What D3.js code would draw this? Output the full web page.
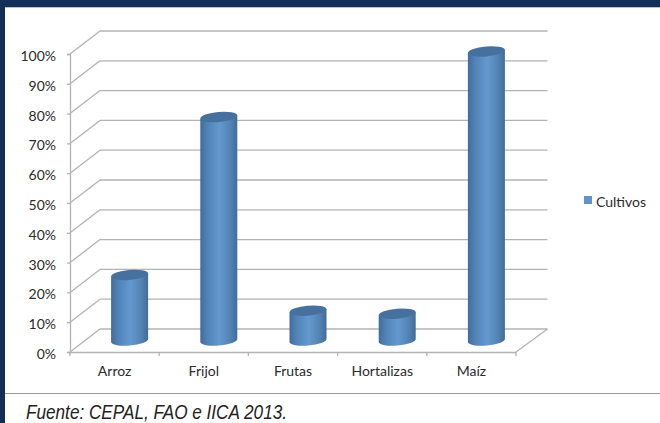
<!DOCTYPE html>
<html>
<head>
<meta charset="utf-8">
<script src="https://cdn.jsdelivr.net/npm/d3@7"></script>
<style>
  html, body { margin: 0; padding: 0; background: #fff; }
  svg { display: block; }
</style>
</head>
<body>
<svg id="chart" width="660" height="423"></svg>
<script>
const categories = ["Arroz", "Frijol", "Frutas", "Hortalizas", "Maíz"];
const cultivos = [22, 75, 10, 9, 97];
const yTicks = [0, 10, 20, 30, 40, 50, 60, 70, 80, 90, 100];
const seriesName = "Cultivos";
const sourceNote = "Fuente: CEPAL, FAO e IICA 2013.";

const svg = d3.select("#chart");
const labelFont = "Lato, 'Open Sans', sans-serif";
const gridColor = "#b3b3b3";

// Front plane of the 3D box, back wall is shifted by depth
const x = d3.scaleBand().domain(categories).range([70, 516]);
const y = d3.scaleLinear().domain([0, 100]).range([352, 54]);
const depthX = 30;
const depthY = -23;

// Page frame
svg.append("rect").attr("width", 660).attr("height", 7.3).attr("fill", "#132e57");
svg.append("rect").attr("width", 5).attr("height", 423).attr("fill", "#132e57");
svg.append("line")
  .attr("x1", 5).attr("x2", 660)
  .attr("y1", 393.5).attr("y2", 393.5)
  .attr("stroke", "#9a9a9a").attr("stroke-width", 1);

// Back wall lines and side wall diagonals
const grid = svg.append("g").attr("stroke", gridColor).attr("stroke-width", 1.3).attr("fill", "none");
grid.selectAll(".back")
  .data(yTicks)
  .enter()
  .append("line")
  .attr("class", "back")
  .attr("x1", 70 + depthX).attr("x2", 516 + depthX + 1.5)
  .attr("y1", (d) => y(d) + depthY).attr("y2", (d) => y(d) + depthY);
grid.selectAll(".side")
  .data(yTicks)
  .enter()
  .append("line")
  .attr("class", "side")
  .attr("x1", 70).attr("x2", 70 + depthX)
  .attr("y1", (d) => y(d)).attr("y2", (d) => y(d) + depthY);
grid.append("line")
  .attr("x1", 516).attr("x2", 516 + depthX + 1.5)
  .attr("y1", y(0)).attr("y2", y(0) + depthY);

// Axes
const yAxis = d3.axisLeft(y)
  .tickValues(yTicks)
  .tickSize(3)
  .tickPadding(11)
  .tickFormat((d) => d + "%");
const xAxis = d3.axisBottom(x).tickSize(0).tickPadding(14);

const gy = svg.append("g").attr("transform", "translate(70,0)").call(yAxis);
const gx = svg.append("g").attr("transform", `translate(0,${y(0)})`).call(xAxis);

gx.selectAll(".bandTick")
  .data(d3.range(categories.length + 1))
  .enter()
  .append("line")
  .attr("class", "bandTick")
  .attr("x1", (d) => x.range()[0] + d * x.step())
  .attr("x2", (d) => x.range()[0] + d * x.step())
  .attr("y1", 0).attr("y2", 4)
  .attr("stroke", gridColor).attr("stroke-width", 1.3);

[gy, gx].forEach((g) => {
  g.selectAll(".domain").attr("stroke", gridColor).attr("stroke-width", 1.3);
  g.selectAll(".tick line").attr("stroke", gridColor).attr("stroke-width", 1.3);
  g.selectAll("text")
    .attr("fill", "#2b2b2b")
    .style("font-family", labelFont)
    .style("font-size", "14px");
});
// Tick labels sit a little under their ticks in the original
gy.selectAll("text").attr("dy", "0.47em");

// Cylinder shading
const defs = svg.append("defs");
const grad = defs.append("linearGradient").attr("id", "cylinder");
grad.append("stop").attr("offset", "0%").attr("stop-color", "#416c9a");
grad.append("stop").attr("offset", "18%").attr("stop-color", "#5082b6");
grad.append("stop").attr("offset", "52%").attr("stop-color", "#6499cf");
grad.append("stop").attr("offset", "82%").attr("stop-color", "#5282b3");
grad.append("stop").attr("offset", "100%").attr("stop-color", "#416c97");

const rx = 18.5;
const ry = 5;
const tilt = -5;
const slope = rx * Math.sin((-tilt * Math.PI) / 180);

const bars = svg.append("g")
  .selectAll("g")
  .data(cultivos)
  .enter()
  .append("g")
  .attr("transform", (d, i) => {
    const cx = x(categories[i]) + x.bandwidth() / 2 + depthX / 2;
    return `translate(${cx},${depthY / 2})`;
  });

bars.append("path")
  .attr("fill", "url(#cylinder)")
  .attr("d", (d) => {
    const top = y(d);
    const base = y(0);
    return `M${-rx},${top + slope} L${-rx},${base + slope}` +
      ` A${rx},${ry} ${tilt} 0 0 ${rx},${base - slope}` +
      ` L${rx},${top - slope} Z`;
  });

bars.append("ellipse")
  .attr("rx", rx)
  .attr("ry", ry)
  .attr("fill", "#46719f")
  .attr("transform", (d) => `translate(0,${y(d)}) rotate(${tilt})`);

// Legend
const legend = svg.append("g").attr("transform", "translate(584,196)");
legend.append("rect").attr("width", 8).attr("height", 8).attr("fill", "#5f93c9");
legend.append("text")
  .attr("x", 12).attr("y", 10.5)
  .attr("fill", "#2b2b2b")
  .style("font-family", labelFont)
  .style("font-size", "14px")
  .text(seriesName);

// Source note, squeezed because no condensed italic is installed
svg.append("text")
  .attr("x", 26).attr("y", 419)
  .attr("fill", "#222")
  .attr("textLength", 261)
  .attr("lengthAdjust", "spacingAndGlyphs")
  .style("font-family", "'Liberation Sans', sans-serif")
  .style("font-style", "italic")
  .style("font-size", "21px")
  .text(sourceNote);
</script>
</body>
</html>
